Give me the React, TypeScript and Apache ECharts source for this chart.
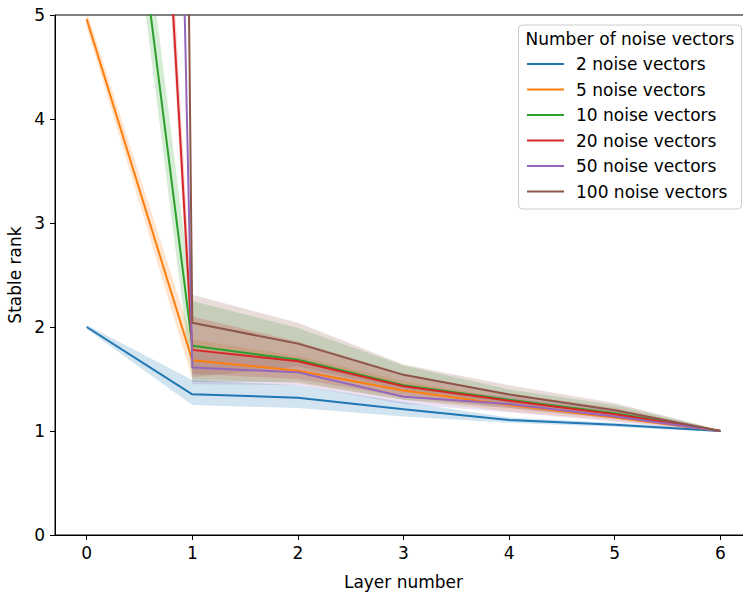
import React, { useEffect, useRef } from "react";
import * as echarts from "echarts";

const layers = [0, 1, 2, 3, 4, 5, 6];
const seriesNames = [
  "2 noise vectors",
  "5 noise vectors",
  "10 noise vectors",
  "20 noise vectors",
  "50 noise vectors",
  "100 noise vectors",
];
const colors = ["#1f77b4", "#ff7f0e", "#2ca02c", "#d62728", "#9467bd", "#8c564b"];
const bandColors = [
  "rgba(31,119,180,0.2)",
  "rgba(255,127,14,0.2)",
  "rgba(44,160,44,0.2)",
  "rgba(214,39,40,0.2)",
  "rgba(148,103,189,0.2)",
  "rgba(140,86,75,0.2)",
];

const mean2 = [2.0, 1.353, 1.32, 1.21, 1.105, 1.06, 1.0];
const lo2 = [1.98, 1.25, 1.22, 1.14, 1.08, 1.04, 0.99];
const hi2 = [2.02, 1.49, 1.44, 1.28, 1.13, 1.08, 1.01];

const mean5 = [4.96, 1.68, 1.58, 1.39, 1.25, 1.13, 1.0];
const lo5 = [4.88, 1.5, 1.46, 1.3, 1.19, 1.1, 0.99];
const hi5 = [5.04, 1.88, 1.72, 1.48, 1.31, 1.18, 1.01];

const mean10 = [9.9, 1.82, 1.685, 1.44, 1.3, 1.17, 1.0];
const lo10 = [9.5, 1.47, 1.47, 1.3, 1.22, 1.12, 0.99];
const hi10 = [10.4, 2.25, 1.99, 1.63, 1.4, 1.25, 1.01];

const mean20 = [19.6, 1.78, 1.67, 1.43, 1.29, 1.16, 1.0];
const lo20 = [19.0, 1.55, 1.5, 1.33, 1.22, 1.12, 0.99];
const hi20 = [20.3, 2.1, 1.86, 1.55, 1.36, 1.22, 1.01];

const mean50 = [49, 1.61, 1.565, 1.33, 1.26, 1.14, 1.0];
const lo50 = [48, 1.45, 1.44, 1.26, 1.18, 1.09, 0.99];
const hi50 = [50.5, 1.78, 1.7, 1.42, 1.33, 1.19, 1.01];

const mean100 = [98, 2.04, 1.84, 1.54, 1.35, 1.2, 1.0];
const lo100 = [96, 1.52, 1.62, 1.4, 1.26, 1.15, 0.99];
const hi100 = [100, 2.31, 2.04, 1.64, 1.44, 1.27, 1.01];

const yTicks = [0, 1, 2, 3, 4, 5];

const means = [mean2, mean5, mean10, mean20, mean50, mean100];
const lows = [lo2, lo5, lo10, lo20, lo50, lo100];
const highs = [hi2, hi5, hi10, hi20, hi50, hi100];

const FONT = "DejaVu Sans";

export default function App() {
  const ref = useRef<HTMLDivElement>(null);
  useEffect(() => {
    document.body.style.margin = "0";
    const chart = echarts.init(ref.current!, null, { renderer: "svg" });
    const series: any[] = [];
    seriesNames.forEach((name, k) => {
      series.push({
        type: "line",
        name,
        data: layers.map((x, i) => [x, means[k][i]]),
        symbol: "none",
        showSymbol: false,
        clip: true,
        lineStyle: { color: colors[k], width: 2 },
        itemStyle: { color: colors[k] },
        z: 2,
      });
      series.push({
        type: "custom",
        name: name + " band",
        data: layers.map((x, i) => [x, lows[k][i], highs[k][i]]),
        encode: { x: 0, y: [1, 2] },
        clip: true,
        silent: true,
        z: 2,
        renderItem: (params: any, api: any) => {
          if (params.dataIndex !== 0) return null;
          const n = params.dataInsideLength;
          const upper: number[][] = [];
          const lower: number[][] = [];
          for (let j = 0; j < n; j++) {
            upper.push(api.coord([api.value(0, j), api.value(2, j)]));
            lower.push(api.coord([api.value(0, j), api.value(1, j)]));
          }
          const points = upper.concat(lower.reverse());
          return {
            type: "polygon",
            shape: { points },
            style: { fill: bandColors[k], stroke: null },
          };
        },
      });
    });

    const axisText = { fontSize: 17, color: "#000", fontFamily: FONT };

    chart.setOption({
      animation: false,
      backgroundColor: "#fff",
      grid: {
        left: 55,
        top: 15,
        width: 697,
        height: 520,
        show: true,
        borderColor: "#000",
        borderWidth: 1,
        backgroundColor: "transparent",
        containLabel: false,
        outerBoundsMode: "none",
      },
      xAxis: {
        type: "value",
        min: -0.3,
        max: 6.3,
        name: "Layer number",
        nameLocation: "middle",
        nameGap: 38,
        nameTextStyle: axisText,
        axisLine: { show: true, onZero: false, lineStyle: { color: "#000", width: 1 } },
        axisTick: { show: true, inside: false, length: 5, customValues: layers, lineStyle: { color: "#000" } },
        axisLabel: { ...axisText, margin: 9, customValues: layers },
        splitLine: { show: false },
      },
      yAxis: {
        type: "value",
        min: 0,
        max: 5,
        interval: 1,
        name: "Stable rank",
        nameLocation: "middle",
        nameGap: 30,
        nameTextStyle: axisText,
        axisLine: { show: true, onZero: false, lineStyle: { color: "#000", width: 1 } },
        axisTick: { show: true, inside: false, length: 5, customValues: yTicks, lineStyle: { color: "#000" } },
        axisLabel: { ...axisText, margin: 10, customValues: yTicks },
        splitLine: { show: false },
      },
      legend: {
        orient: "vertical",
        left: 527,
        top: 54,
        itemWidth: 37,
        itemHeight: 2,
        itemGap: 5.5,
        icon: "rect",
        padding: 0,
        data: seriesNames.map((n, k) => ({ name: n, itemStyle: { color: colors[k] } })),
        textStyle: { fontSize: 17, lineHeight: 20, color: "#000", fontFamily: FONT, padding: [0, 0, 0, 7] },
        z: 10,
      },
      graphic: [
        {
          type: "rect",
          z: 8,
          shape: { x: 518.5, y: 25, width: 223, height: 184, r: 4 },
          style: { fill: "rgba(255,255,255,0.8)", stroke: "#cccccc", lineWidth: 1 },
          silent: true,
        },
        {
          type: "text",
          z: 9,
          x: 630,
          y: 39,
          style: {
            text: "Number of noise vectors",
            fontSize: 17,
            fontFamily: FONT,
            fill: "#000",
            align: "center",
            verticalAlign: "middle",
          },
          silent: true,
        },
      ],
      series,
    });
    return () => chart.dispose();
  }, []);
  return <div ref={ref} style={{ width: 743, height: 592 }} />;
}
